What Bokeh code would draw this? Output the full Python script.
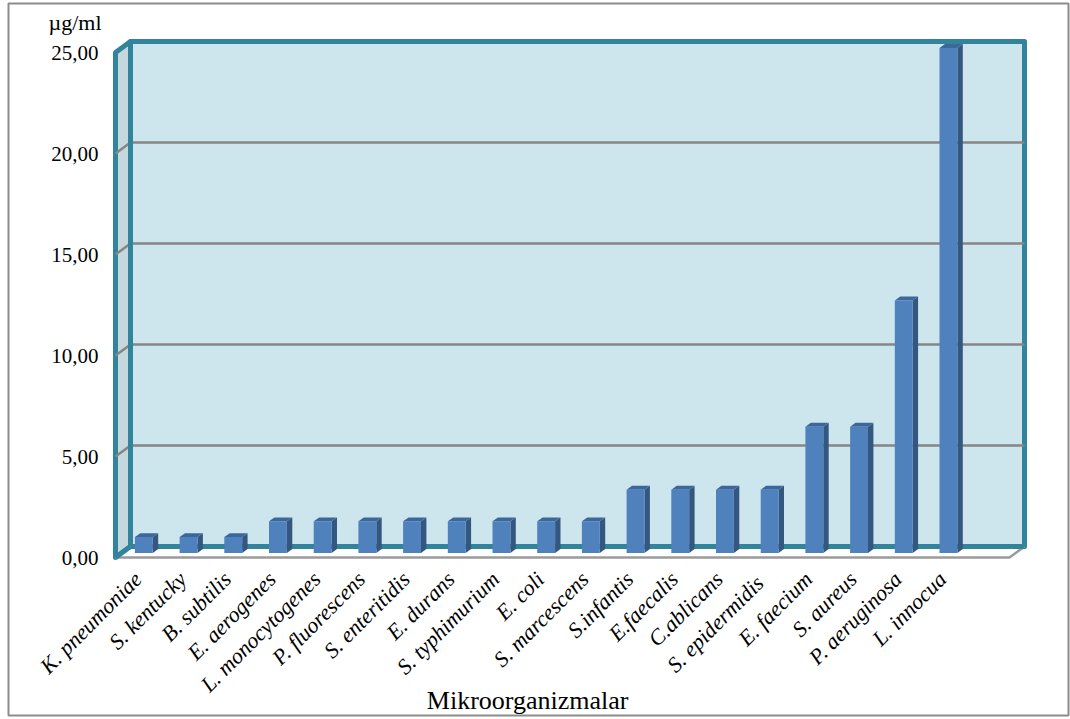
import numpy as np
from bokeh.plotting import figure
from bokeh.models import Range1d
from bokeh.core.properties import value
from bokeh.embed import file_html
from bokeh.resources import INLINE

# ---------------- data ----------------
categories = ["K. pneumoniae", "S. kentucky", "B. subtilis", "E. aerogenes",
              "L. monocytogenes", "P. fluorescens", "S. enteritidis", "E. durans",
              "S. typhimurium", "E. coli", "S. marcescens", "S.infantis",
              "E.faecalis", "C.ablicans", "S.  epidermidis", "E. faecium",
              "S. aureus", "P. aeruginosa", "L. innocua"]
values = [0.78, 0.78, 0.78, 1.56, 1.56, 1.56, 1.56, 1.56, 1.56, 1.56, 1.56,
          3.125, 3.125, 3.125, 3.125, 6.25, 6.25, 12.5, 25.0]
y_ticks = [0, 5, 10, 15, 20, 25]
y_tick_labels = ["0,00", "5,00", "10,00", "15,00", "20,00", "25,00"]
y_unit = "µg/ml"
x_title = "Mikroorganizmalar"
n_slots = 20          # axis has one empty slot on the right
y_max = 25

# ---------------- geometry (styles) ----------------
SX = 44.7   # px per slot
SY = 20.2   # px per unit
FX0, FY0 = 115.0, 557.0   # front-left origin in px
DX = 15 / SX               # depth offset in data units
DY = 11 / SY

FL, FR, FT, FB = 8, 1068, 3, 715  # frame (outer border) in px
W, H = 1070, 719
FONT = value("'Liberation Serif', 'Times New Roman', serif")

p = figure(width=W, height=H, output_backend="svg", toolbar_location=None,
           x_axis_location=None, y_axis_location=None,
           min_border_left=FL, min_border_right=W - FR,
           min_border_top=FT, min_border_bottom=H - FB,
           x_range=Range1d((FL - FX0) / SX, (FR - FX0) / SX),
           y_range=Range1d((FY0 - FB) / SY, (FY0 - FT) / SY))
p.grid.visible = False
p.outline_line_color = "#8c8c8c"
p.outline_line_width = 2
p.background_fill_color = "white"
p.border_fill_color = "white"

TEAL = "#31849B"
GRID = "#868686"

# walls
p.patch([DX, n_slots + DX, n_slots + DX, DX], [DY, DY, y_max + DY, y_max + DY],
        fill_color="#CDE5EC", line_color=TEAL, line_width=5, line_join="round")
p.patch([0, DX, DX, 0], [0, DY, y_max + DY, y_max],
        fill_color="#C4D8DD", line_color=TEAL, line_width=5, line_join="round")

# gridlines
gt = [t for t in y_ticks if 0 < t < y_max]
p.multi_line([[DX, n_slots + DX] for t in gt], [[t + DY, t + DY] for t in gt],
             line_color=GRID, line_width=2.5)
p.multi_line([[0, DX] for t in gt], [[t, t + DY] for t in gt],
             line_color=GRID, line_width=2.5)

# re-stroke back wall left edge over grid
p.line([DX, DX], [DY, y_max + DY], line_color=TEAL, line_width=5)

# floor
p.patch([0, n_slots, n_slots + DX, DX], [0, 0, DY, DY],
        fill_color="white", line_color=None)
p.line([0, n_slots, n_slots + DX], [0, 0, DY], line_color="#9a9a9a", line_width=2.5)
p.line([DX, n_slots + DX], [DY, DY], line_color=TEAL, line_width=5)
p.line([0, DX], [0, DY], line_color=TEAL, line_width=5)

# bars
idx = np.arange(len(values))
v = np.array(values)
bw = 0.40
off_x, off_y = 0.40 * DX, 0.42 * DY
bdx, bdy = 0.36 * DX, 0.36 * DY
x0 = idx + 0.5 - bw / 2 + off_x
x1 = x0 + bw
yb = np.full_like(v, off_y)
yt = yb + v

side_xs = [[a, a + bdx, a + bdx, a] for a in x1]
side_ys = [[b, b + bdy, t + bdy, t] for b, t in zip(yb, yt)]
p.patches(side_xs, side_ys, fill_color="#34577F", line_color=None)
top_xs = [[a, b, b + bdx, a + bdx] for a, b in zip(x0, x1)]
top_ys = [[t, t, t + bdy, t + bdy] for t in yt]
p.patches(top_xs, top_ys, fill_color="#3D669B", line_color=None)
p.quad(left=x0, right=x1, bottom=yb, top=yt, fill_color="#4F81BD", line_color=None)

# y tick labels
p.text(x=[0] * len(y_ticks), y=y_ticks, text=y_tick_labels, x_offset=-17,
       text_align="right", text_baseline="middle",
       text_font=FONT, text_font_size="21px", text_color="black")

# unit label
p.text(x=[0], y=[y_max], text=[y_unit], x_offset=-67, y_offset=-30,
       text_align="left", text_baseline="alphabetic",
       text_font=FONT, text_font_size="22px", text_color="black")

# category labels
p.text(x=idx + 0.5, y=[0] * len(categories), text=categories,
       y_offset=18, angle=np.pi / 4, text_align="right", text_baseline="alphabetic",
       text_font=FONT, text_font_style="italic",
       text_font_size="22px", text_color="black")

# axis title
p.text(x=[9.22], y=[0], text=[x_title], y_offset=143,
       text_align="center", text_baseline="alphabetic",
       text_font=FONT, text_font_size="26px", text_color="black")

open("out.html", "w").write(file_html(p, INLINE))
